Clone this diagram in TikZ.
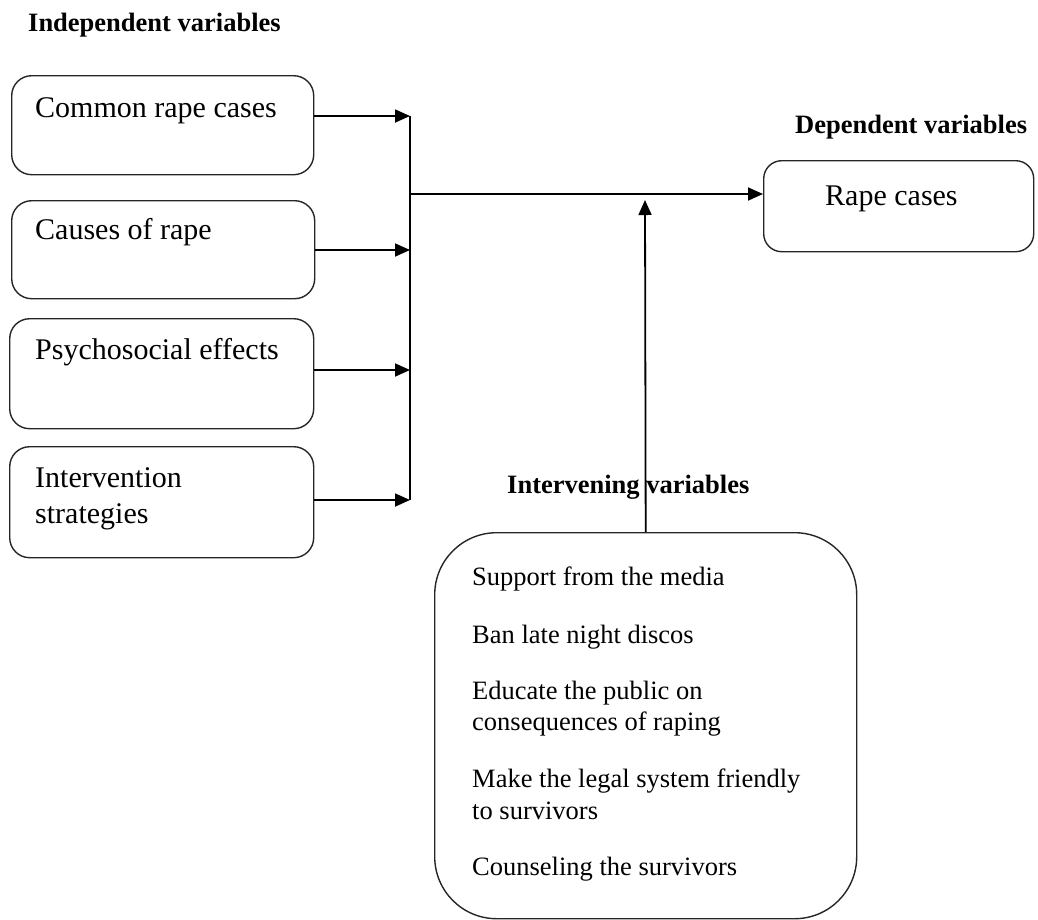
\documentclass[tikz,border=0pt]{standalone}
\usepackage{fontspec}
\setmainfont{Liberation Serif}
\usetikzlibrary{arrows.meta}
\begin{document}
\begin{tikzpicture}[x=1pt,y=-1pt,
  box/.style={draw=black!85, line width=1.4pt, rounded corners=20pt, inner sep=0pt, anchor=north west},
  big/.style={font=\fontsize{30}{36}\selectfont, inner sep=0pt, anchor=base west},
  head/.style={font=\fontsize{26.5}{32}\selectfont\bfseries, inner sep=0pt, anchor=base west},
  item/.style={font=\fontsize{26.5}{32}\selectfont, inner sep=0pt, anchor=base west, align=left},
  conn/.style={line width=1.8pt},
  arr/.style={line width=1.8pt, -{Triangle[length=15pt,width=13pt]}}]
\useasboundingbox (0,0) rectangle (1038,919);
% headings
\node[head] (hind) at (28,31) {Independent variables};
\node[head] (hdep) at (795,133) {Dependent variables};
\node[head] (hint) at (507,493) {Intervening variables};
% independent boxes
\node[box, minimum width=302pt, minimum height=99pt] (b1) at (11,75) {};
\node[box, minimum width=303pt, minimum height=98pt] (b2) at (11,200) {};
\node[box, minimum width=304pt, minimum height=110pt] (b3) at (9,318) {};
\node[box, minimum width=304pt, minimum height=111pt] (b4) at (9,446) {};
\node[big] (t1) at (35,117) {Common rape cases};
\node[big] (t2) at (35,239) {Causes of rape};
\node[big] (t3) at (35,359) {Psychosocial effects};
\node[big] (t4a) at (35,487) {Intervention};
\node[big] (t4b) at (35,523) {strategies};
% dependent box
\node[box, rounded corners=18pt, minimum width=270pt, minimum height=91pt] (dep) at (763,160) {};
\node[big] (tdep) at (825,205) {Rape cases};
% intervening box
\node[box, rounded corners=62pt, minimum width=422pt, minimum height=386pt] (inter) at (434,532) {};
\node[item] (i1) at (472,585) {Support from the media};
\node[item] (i2) at (472,643) {Ban late night discos};
\node[item] (i3) at (472,699) {Educate the public on};
\node[item] (i3b) at (472,730) {consequences of raping};
\node[item] (i4) at (472,787) {Make the legal system friendly};
\node[item] (i4b) at (472,819) {to survivors};
\node[item] (i5) at (472,875) {Counseling the survivors};
% junction coordinates
\coordinate (j1) at (410,116);
\coordinate (j2) at (410,250);
\coordinate (j3) at (410,370);
\coordinate (j4) at (410,500);
\coordinate (jm) at (410,194);
\coordinate (up) at (645,200);
% connectors
\draw[arr] (b1.east |- j1) -- (j1);
\draw[arr] (b2.east |- j2) -- (j2);
\draw[arr] (b3.east |- j3) -- (j3);
\draw[arr] (b4.east |- j4) -- (j4);
\draw[conn] (j1) -- (j4);
\draw[arr] (jm) -- (dep.west |- jm);
\draw[arr] (inter.north) -- (up);
\end{tikzpicture}
\end{document}
